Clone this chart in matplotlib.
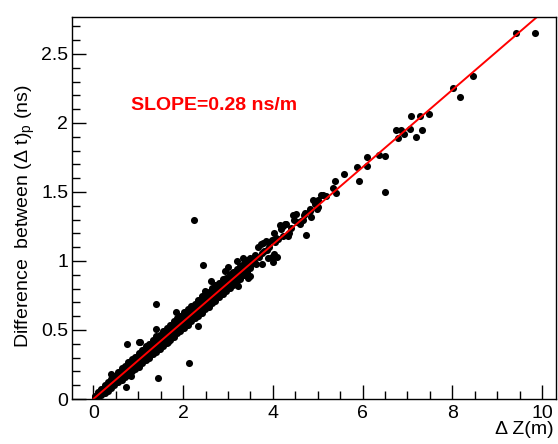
import numpy as np
import matplotlib
matplotlib.use("Agg")
from matplotlib import pyplot as plt
from matplotlib.ticker import MultipleLocator

plt.rcParams['font.family'] = ['Liberation Sans', 'DejaVu Sans']
plt.rcParams['mathtext.default'] = 'regular'

# dense band of points (delta Z, delta t)
band_x = [0.03, 0.1, 0.17, 0.25, 0.32, 0.4, 0.47, 0.55, 0.63, 0.7, 0.78, 0.86,
          0.93, 1.01, 1.09, 1.17, 1.24, 1.32, 1.4, 1.48, 1.55, 1.63, 1.71, 1.79,
          1.87, 1.94, 2.02, 2.1, 2.18, 2.26, 2.33, 2.41, 2.49, 2.57, 2.65, 2.72,
          2.8, 2.88, 2.96, 3.04, 3.11, 3.19, 3.27, 3.35, 3.43, 3.5]
band_mid = [0.008, 0.03, 0.05, 0.072, 0.09, 0.113, 0.133, 0.155, 0.178, 0.197,
            0.22, 0.242, 0.262, 0.284, 0.306, 0.329, 0.349, 0.371, 0.393, 0.416,
            0.435, 0.458, 0.48, 0.502, 0.525, 0.545, 0.567, 0.589, 0.612, 0.634,
            0.654, 0.676, 0.699, 0.721, 0.743, 0.763, 0.785, 0.808, 0.83, 0.852,
            0.872, 0.894, 0.917, 0.939, 0.962, 0.981]
band_up = [0.023, 0.05, 0.075, 0.102, 0.12, 0.148, 0.168, 0.195, 0.223, 0.237,
           0.265, 0.292, 0.307, 0.334, 0.356, 0.384, 0.399, 0.426, 0.453, 0.466,
           0.49, 0.518, 0.535, 0.562, 0.585, 0.6, 0.627, 0.654, 0.672, 0.689,
           0.714, 0.741, 0.759, 0.776, 0.803, 0.823, 0.84, 0.868, 0.88, 0.907,
           0.922, 0.944, 0.962, 0.989, 1.007, 1.021]
band_up2 = [0.016, 0.04, 0.062, 0.087, 0.106, 0.131, 0.151, 0.175, 0.2, 0.218,
            0.243, 0.267, 0.285, 0.309, 0.332, 0.356, 0.375, 0.398, 0.422, 0.442,
            0.462, 0.487, 0.508, 0.531, 0.555, 0.573, 0.596, 0.621, 0.642, 0.662,
            0.683, 0.708, 0.729, 0.749, 0.772, 0.792, 0.813, 0.837, 0.856, 0.879,
            0.897, 0.919, 0.94, 0.964, 0.985, 1.002]
band_low2 = [0.003, 0.02, 0.04, 0.059, 0.075, 0.098, 0.115, 0.137, 0.158, 0.177,
             0.197, 0.222, 0.24, 0.259, 0.283, 0.304, 0.324, 0.348, 0.368, 0.388,
             0.41, 0.433, 0.452, 0.477, 0.5, 0.517, 0.542, 0.561, 0.587, 0.609,
             0.626, 0.651, 0.674, 0.693, 0.718, 0.738, 0.762, 0.783, 0.807, 0.827,
             0.849, 0.874, 0.894, 0.919, 0.942, 0.963]
band_low = [0.0, 0.01, 0.03, 0.047, 0.06, 0.083, 0.098, 0.12, 0.138, 0.157,
            0.175, 0.202, 0.217, 0.234, 0.261, 0.279, 0.299, 0.326, 0.343, 0.361,
            0.385, 0.408, 0.425, 0.452, 0.475, 0.49, 0.517, 0.534, 0.562, 0.584,
            0.599, 0.626, 0.649, 0.666, 0.693, 0.713, 0.74, 0.758, 0.785, 0.802,
            0.827, 0.854, 0.872, 0.899, 0.922, 0.946]

# points sticking out of the band and the sparse upper part
extra_x = [0.39, 0.83, 1.02, 1.40, 1.67, 1.85, 2.41, 2.48, 2.63, 2.93, 3.0,
           3.19, 3.23, 3.34, 3.45, 3.49,
           3.58, 3.6, 3.62, 3.67, 3.70, 3.73, 3.75, 3.78, 3.8, 3.84, 3.86, 3.89,
           3.89, 3.92, 3.97, 3.97, 4.0, 4.02, 4.03, 4.04, 4.08, 4.09, 4.12, 4.15,
           4.18, 4.22, 4.23, 4.26, 4.30, 4.34, 4.36, 4.40, 4.45, 4.47, 4.51,
           4.53, 4.60, 4.62, 4.67, 4.69, 4.71, 4.82, 4.82, 4.86, 4.90, 4.95,
           4.99, 5.0, 5.01, 5.07, 5.12, 5.18, 5.33, 5.39, 5.40, 5.59, 5.87, 5.91,
           6.10, 6.10, 6.37, 6.49, 6.74, 6.78, 6.85, 6.92, 7.05, 7.07, 7.19,
           7.29, 7.32, 7.47, 8.02, 8.16, 8.46, 9.42, 9.85]
extra_y = [0.18, 0.17, 0.41, 0.51, 0.41, 0.63, 0.745, 0.78, 0.855, 0.93, 0.96,
           1.0, 0.82, 1.025, 0.88, 0.89,
           1.0, 1.04, 0.98, 1.105, 1.03, 1.12, 1.06, 1.13, 1.07, 1.145, 1.08,
           1.14, 1.025, 1.1, 1.15, 1.03, 0.99, 1.05, 1.20, 1.135, 1.17, 1.03,
           1.16, 1.26, 1.23, 1.25, 1.18, 1.27, 1.27, 1.18, 1.20, 1.24, 1.33,
           1.30, 1.34, 1.28, 1.27, 1.29, 1.30, 1.33, 1.35, 1.36, 1.38, 1.32,
           1.445, 1.41, 1.38, 1.39, 1.44, 1.475, 1.48, 1.47, 1.53, 1.58, 1.49,
           1.63, 1.68, 1.58, 1.75, 1.69, 1.77, 1.76, 1.95, 1.89, 1.95, 1.92,
           1.96, 2.05, 1.90, 2.05, 1.95, 2.065, 2.25, 2.19, 2.34, 2.65, 2.65]

# isolated outliers
out_x = [2.25, 2.45, 1.39, 0.75, 1.04, 2.14, 1.44, 0.72, 2.33, 3.75, 4.73, 6.49]
out_y = [1.30, 0.97, 0.69, 0.40, 0.41, 0.26, 0.155, 0.085, 0.53, 0.98, 1.19, 1.50]

slope = 0.28
fit_x = [0.0, 10.0]

fig = plt.figure(figsize=(5.58, 4.44), dpi=100)
ax = fig.add_axes([72.3 / 558, 45 / 444, (556 - 72.3) / 558, (399 - 17) / 444])

ms = 26
for yy in (band_mid, band_up, band_up2, band_low2, band_low):
    ax.scatter(band_x, yy, s=ms, c='black', linewidths=0)
ax.scatter(extra_x, extra_y, s=ms, c='black', linewidths=0)
ax.scatter(out_x, out_y, s=ms, c='black', linewidths=0)

ax.plot(fit_x, [slope * v for v in fit_x], color='red', lw=1.4)

ax.set_xlim(-0.47, 10.31)
ax.set_ylim(0, 2.768)

ax.xaxis.set_minor_locator(MultipleLocator(0.5))
ax.yaxis.set_minor_locator(MultipleLocator(0.1))
ax.set_yticks([0, 0.5, 1, 1.5, 2, 2.5])
ax.set_yticklabels(['0', '0.5', '1', '1.5', '2', '2.5'])
ax.set_xticks([0, 2, 4, 6, 8, 10])
ax.set_xticklabels(['0', '2', '4', '6', '8', '10'])

ax.tick_params(which='both', direction='in', top=False, right=False,
               labelsize=14, color='black')
ax.tick_params(which='major', length=10, width=1)
ax.tick_params(which='minor', length=6, width=1)
ax.tick_params(axis='x', pad=4)
ax.tick_params(axis='y', pad=3)
for sp in ax.spines.values():
    sp.set_linewidth(1)

ax.text(0.836, 2.13, 'SLOPE=0.28 ns/m', color='red', fontsize=14,
        fontweight='bold', va='center', ha='left')

fig.text(554 / 558, 1 - 429 / 444, 'Δ Z(m)', ha='right', va='center', fontsize=14)
fig.text(25 / 558, 1 - 216 / 444, 'Difference  between (Δ t)$_{p}$ (ns)',
         rotation=90, ha='center', va='center', fontsize=14)

fig.savefig('out.png', dpi=100)
